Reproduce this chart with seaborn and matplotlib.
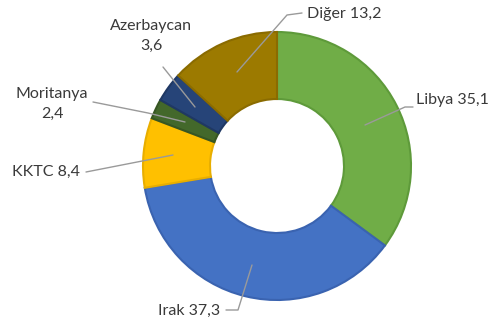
import matplotlib
matplotlib.use("Agg")
import matplotlib.pyplot as plt
import seaborn as sns

categories = ["Libya", "Irak", "KKTC", "Moritanya", "Azerbaycan", "Diğer"]
values = [35.1, 37.3, 8.4, 2.4, 3.6, 13.2]
colors = ["#70AD47", "#4472C4", "#FFC000", "#43682B", "#264478", "#9C7A00"]
edges = ["#5E9A3A", "#3A63B0", "#E8AE00", "#375623", "#1F3864", "#8A6B00"]

sns.set_theme(style="white")
plt.rcParams['font.family'] = ['Lato', 'DejaVu Sans']

W, H = 495, 324
fig = plt.figure(figsize=(W / 100, H / 100), dpi=100)
ax = fig.add_axes([0, 0, 1, 1])

cx, cy, R = 277, H - 166, 134
wedges, _ = ax.pie(values, colors=colors, startangle=90, counterclock=False,
                   radius=R, center=(cx, cy), frame=True,
                   wedgeprops=dict(width=R * 0.5, linewidth=1.5))
for w, e in zip(wedges, edges):
    w.set_edgecolor(e)
ax.set_xlim(0, W)
ax.set_ylim(0, H)
ax.set_aspect("equal")
ax.axis("off")

def fmt(v):
    return f"{v:.1f}".replace(".", ",")

labels = {
    "Libya": dict(text=f"Libya {fmt(values[0])}", pos=(452, 100),
                  line=[(365, 125), (405, 107), (413, 107)]),
    "Irak": dict(text=f"Irak {fmt(values[1])}", pos=(189, 311),
                 line=[(252, 265), (238, 310), (226, 310)]),
    "KKTC": dict(text=f"KKTC {fmt(values[2])}", pos=(46, 172),
                 line=[(173, 155), (86, 172)]),
    "Moritanya": dict(text=f"Moritanya\n{fmt(values[3])}", pos=(52, 104),
                      line=[(185, 122), (148, 113), (93, 102)]),
    "Azerbaycan": dict(text=f"Azerbaycan\n{fmt(values[4])}", pos=(151, 36),
                       line=[(195, 107), (163, 67)]),
    "Diğer": dict(text=f"Diğer {fmt(values[5])}", pos=(344, 14),
                  line=[(237, 72), (287, 15), (302, 13)]),
}
for k, d in labels.items():
    xs = [p[0] for p in d["line"]]
    ys = [H - p[1] for p in d["line"]]
    ax.plot(xs, ys, color="#9A9A9A", lw=1.0, zorder=5)
    ax.text(d["pos"][0], H - d["pos"][1], d["text"], ha="center", va="center",
            fontsize=11.5, color="#3A3A3A", linespacing=1.55, zorder=6)

fig.savefig("out.png", dpi=100)
